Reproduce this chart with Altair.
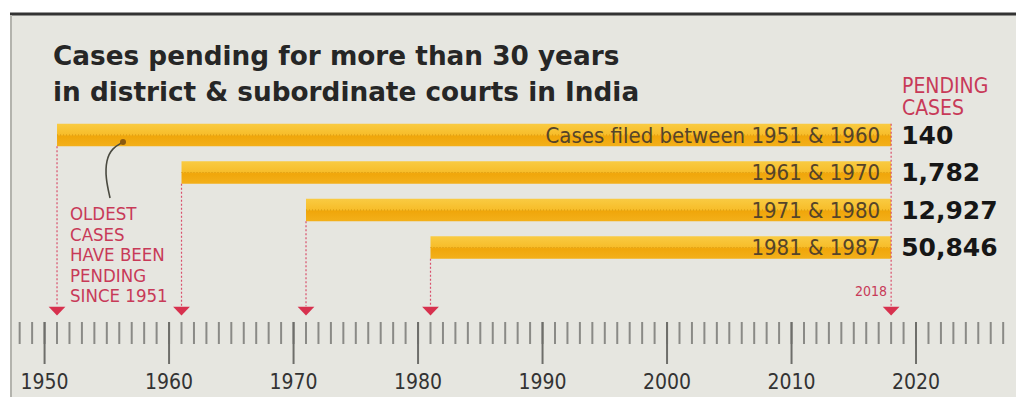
import altair as alt
import pandas as pd

# ---------------- data ----------------
periods = ["Cases filed between 1951 & 1960", "1961 & 1970", "1971 & 1980", "1981 & 1987"]
start_years = [1951, 1961, 1971, 1981]
end_year = 2018
pending = [140, 1782, 12927, 50846]
rows = [1, 2, 3, 4]
decades = [1950, 1960, 1970, 1980, 1990, 2000, 2010, 2020]
axis_years = list(range(1948, 2028))

title_lines = ["Cases pending for more than 30 years", "in district & subordinate courts in India"]
header_lines = ["PENDING", "CASES"]
note_lines = ["OLDEST", "CASES", "HAVE BEEN", "PENDING", "SINCE 1951"]
end_label = "2018"

# leader curve from the note up to the oldest bar (year, row units)
curve_x = [1955.26, 1954.90, 1954.94, 1955.42, 1956.30]
curve_y = [2.68, 2.15, 1.67, 1.35, 1.19]

# ---------------- frames ----------------
bars = pd.DataFrame({
    "label": periods,
    "start": start_years,
    "end": [end_year] * len(periods),
    "row": rows,
    "pending": [f"{v:,}" for v in pending],
})
markers = pd.DataFrame({"year": start_years + [end_year],
                        "top": [r + 0.3 for r in rows] + [rows[0] - 0.3]})
minor = pd.DataFrame({"year": axis_years})
major = pd.DataFrame({"year": decades, "text": [str(d) for d in decades]})
curve = pd.DataFrame({"x": curve_x, "y": curve_y, "i": list(range(len(curve_x)))})
dot = curve.tail(1)
one = pd.DataFrame({"a": [0]})
endlab = pd.DataFrame({"year": [end_year], "text": [end_label]})
header_df = pd.DataFrame({"text": header_lines, "i": [0, 1]})

# ---------------- styles ----------------
W, H = 1016, 322
BG = "#e6e6e0"
RED = "#c83a58"
ARROW = "#d7314e"
COND = "Liberation Sans Narrow, DejaVu Sans Condensed, Roboto Condensed, Arial Narrow, sans-serif"
BOLD = "DejaVu Sans"
ARROW_ROW = 5.69
LINE_END = 5.57

x_scale = alt.Scale(domain=[1946.42, 2028.03], nice=False, zero=False)
y_scale = alt.Scale(domain=[-2.6, 5.9867], reverse=True, nice=False, zero=False)

bar_gradient = alt.Gradient(
    gradient="linear", x1=0, x2=0, y1=0, y2=1,
    stops=[
        alt.GradientStop(offset=0, color="#f9cb42"),
        alt.GradientStop(offset=0.48, color="#f7bd2a"),
        alt.GradientStop(offset=0.55, color="#f0a60a"),
        alt.GradientStop(offset=1, color="#f3b01a"),
    ],
)

# ---------------- layers ----------------
background = alt.Chart(one).mark_rect(color=BG).encode(
    x=alt.value(10), x2=alt.value(W), y=alt.value(14), y2=alt.value(397))
top_border = alt.Chart(one).mark_rule(color="#333333", strokeWidth=3).encode(
    x=alt.value(10), x2=alt.value(W), y=alt.value(14))
left_border = alt.Chart(one).mark_rule(color="#b3b3ad", strokeWidth=2).encode(
    x=alt.value(11), y=alt.value(15), y2=alt.value(397))

bar_layer = alt.Chart(bars).transform_calculate(
    y1="datum.row - 0.3", y2="datum.row + 0.3"
).mark_bar(color=bar_gradient).encode(
    x=alt.X("start:Q", scale=x_scale, axis=None),
    x2="end:Q",
    y=alt.Y("y1:Q", scale=y_scale, axis=None),
    y2="y2:Q",
)

center_dots = alt.Chart(bars).mark_rule(color="#d6960f", strokeWidth=1, strokeDash=[1, 2]).encode(
    x=alt.X("start:Q", scale=x_scale, axis=None), x2="end:Q",
    y=alt.Y("row:Q", scale=y_scale, axis=None),
)

drop_lines = alt.Chart(markers).transform_calculate(bottom=str(LINE_END)).mark_rule(
    color="#d9506c", strokeWidth=1.2, strokeDash=[2, 2]
).encode(
    x=alt.X("year:Q", scale=x_scale, axis=None),
    y=alt.Y("top:Q", scale=y_scale, axis=None), y2="bottom:Q",
)

arrows = alt.Chart(markers).transform_calculate(r=str(ARROW_ROW)).mark_point(
    shape="M-1,-0.5L1,-0.5L0,0.55Z", filled=True, opacity=1, size=280, color=ARROW, strokeWidth=0
).encode(
    x=alt.X("year:Q", scale=x_scale, axis=None),
    y=alt.Y("r:Q", scale=y_scale, axis=None),
)

minor_ticks = alt.Chart(minor).mark_rule(color="#8a8a86", strokeWidth=2).encode(
    x=alt.X("year:Q", scale=x_scale, axis=None),
    y=alt.value(H), y2=alt.value(H + 22),
)
major_ticks = alt.Chart(major).mark_rule(color="#6e6e6a", strokeWidth=2).encode(
    x=alt.X("year:Q", scale=x_scale, axis=None),
    y=alt.value(H), y2=alt.value(H + 42),
)
major_labels = alt.Chart(major).mark_text(
    align="center", baseline="alphabetic", font=COND, fontSize=21, color="#333333"
).encode(
    x=alt.X("year:Q", scale=x_scale, axis=None),
    y=alt.value(389),
    text="text:N",
)

leader = alt.Chart(curve).mark_line(interpolate="basis", color="#4a4a40", strokeWidth=1.6).encode(
    x=alt.X("x:Q", scale=x_scale, axis=None),
    y=alt.Y("y:Q", scale=y_scale, axis=None),
    order="i:Q",
)
leader_dot = alt.Chart(dot).mark_circle(size=36, color="#8a5a10", opacity=1).encode(
    x=alt.X("x:Q", scale=x_scale, axis=None),
    y=alt.Y("y:Q", scale=y_scale, axis=None),
)

bar_labels = alt.Chart(bars).mark_text(
    align="right", baseline="middle", dx=-11, dy=1, font=COND, fontSize=22, color="#55442a"
).encode(
    x=alt.X("end:Q", scale=x_scale, axis=None),
    y=alt.Y("row:Q", scale=y_scale, axis=None),
    text="label:N",
)

value_labels = alt.Chart(bars).mark_text(
    align="left", baseline="middle", dx=10, dy=1, font=BOLD, fontWeight="bold", fontSize=25, color="#161616"
).encode(
    x=alt.X("end:Q", scale=x_scale, axis=None),
    y=alt.Y("row:Q", scale=y_scale, axis=None),
    text="pending:N",
)

end_text = alt.Chart(endlab).transform_calculate(r="5.2").mark_text(
    align="right", baseline="middle", dx=-4, font=COND, fontSize=14, color=RED
).encode(
    x=alt.X("year:Q", scale=x_scale, axis=None),
    y=alt.Y("r:Q", scale=y_scale, axis=None),
    text="text:N",
)

title = alt.Chart(one).mark_text(
    align="left", baseline="alphabetic", font=BOLD, fontWeight="bold", fontSize=26.3,
    color="#262626", lineHeight=36,
).encode(x=alt.value(53), y=alt.value(65), text=alt.value(title_lines))

header = alt.Chart(header_df).transform_calculate(py="93 + datum.i * 22").mark_text(
    align="left", baseline="alphabetic", font=COND, fontSize=21, color=RED,
).encode(x=alt.value(902), y=alt.Y("py:Q", scale=None, axis=None), text="text:N")

note = alt.Chart(one).mark_text(
    align="left", baseline="alphabetic", font=COND, fontSize=18.5, color=RED, lineHeight=20.5,
).encode(x=alt.value(70), y=alt.value(220), text=alt.value(note_lines))

chart = alt.layer(
    background, top_border, left_border,
    bar_layer, center_dots, drop_lines, arrows, minor_ticks, major_ticks, major_labels,
    leader, leader_dot, bar_labels, value_labels, end_text,
    title, header, note,
).properties(
    width=W, height=H,
    autosize=alt.AutoSizeParams(type="none"),
    padding={"left": 0, "right": 0, "top": 0, "bottom": 397 - H},
    background="#ffffff",
).resolve_scale(y="independent").configure_view(strokeWidth=0, fill=None)

chart.save("out.html", embed_options={"renderer": "svg", "actions": False})
